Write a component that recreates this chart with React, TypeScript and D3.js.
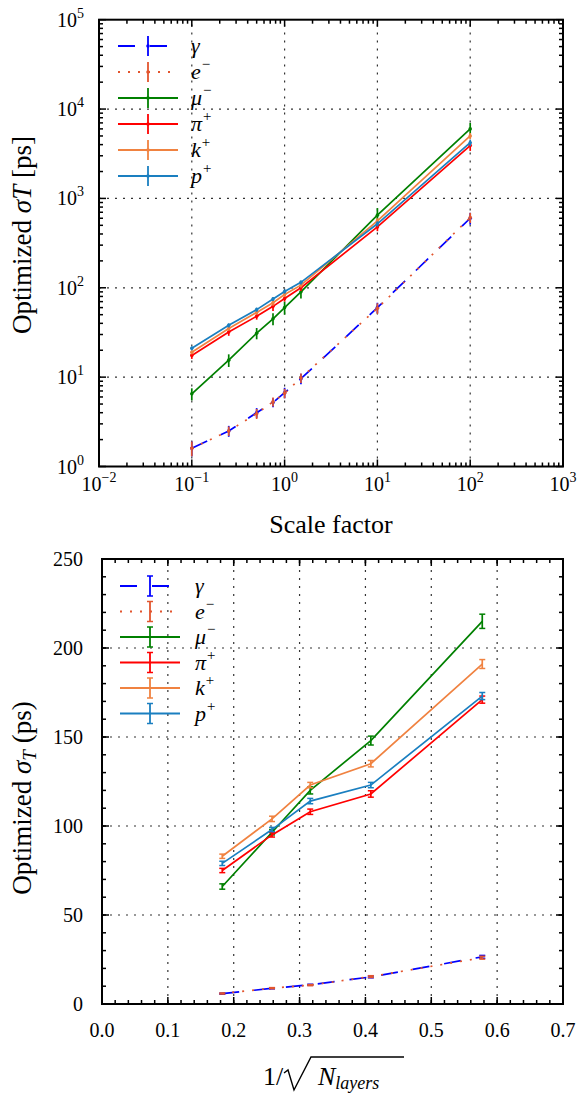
import React, { useEffect, useRef } from 'react'
import * as d3 from 'd3'

// ---- data ----
const scaleFactors = [0.1, 0.25, 0.5, 0.75, 1.0, 1.5, 10, 100]
const gammaTop = [1.6, 2.5, 4.0, 5.2, 6.7, 9.6, 60, 600]
const electronTop = [1.6, 2.5, 3.9, 5.3, 6.6, 9.8, 59, 610]
const muonTop = [6.5, 15.5, 31, 45, 60, 90, 650, 6000]
const pionTop = [17.5, 32, 48, 62, 76, 100, 480, 3900]
const kaonTop = [19, 35, 53, 68, 84, 107, 560, 5000]
const protonTop = [21, 38, 57, 75, 91, 115, 520, 4200]

const gammaTopErr = [0.3, 0.35, 0.5, 0.6, 0.9, 1.3, 8, 90]
const electronTopErr = [0.3, 0.3, 0.5, 0.6, 0.8, 1.2, 8, 80]
const muonTopErr = [1.0, 2.5, 4.5, 7, 10, 14, 130, 1000]
const pionTopErr = [1.5, 3, 4, 7, 6, 8, 50, 500]
const kaonTopErr = [1, 2, 3, 5, 5, 6, 40, 400]
const protonTopErr = [1, 2, 3, 4, 5, 6, 35, 350]

const invSqrtLayers = [0.1826, 0.2582, 0.3162, 0.4082, 0.5774]
const gammaBot = [5.8, 8.8, 10.8, 15.2, 26.5]
const electronBot = [5.9, 8.9, 10.6, 15.4, 26.0]
const muonBot = [66, 96.5, 120, 148, 215]
const pionBot = [75, 95, 108, 118, 171]
const kaonBot = [83, 104, 123, 135, 191]
const protonBot = [79, 98, 114, 123, 173]

const gammaBotErr = [0.3, 0.3, 0.3, 0.5, 0.8]
const electronBotErr = [0.3, 0.3, 0.3, 0.5, 0.8]
const muonBotErr = [1.5, 1.5, 2, 2.5, 4]
const pionBotErr = [1.2, 1.2, 1.5, 1.8, 2]
const kaonBotErr = [1.2, 1.5, 1.5, 1.8, 2.5]
const protonBotErr = [1.2, 1.2, 1.5, 1.5, 2]

const particles = [
  { sym: 'γ', sup: '', color: '#0000ff', dash: '17,15' },
  { sym: 'e', sup: '−', color: '#e2552e', dash: '2,8' },
  { sym: 'μ', sup: '−', color: '#008000', dash: null },
  { sym: 'π', sup: '+', color: '#ff0000', dash: null },
  { sym: 'k', sup: '+', color: '#f08240', dash: null },
  { sym: 'p', sup: '+', color: '#1a7fc0', dash: null },
]

const topSeries = [gammaTop, electronTop, muonTop, pionTop, kaonTop, protonTop]
const topErrs = [gammaTopErr, electronTopErr, muonTopErr, pionTopErr, kaonTopErr, protonTopErr]
const botSeries = [gammaBot, electronBot, muonBot, pionBot, kaonBot, protonBot]
const botErrs = [gammaBotErr, electronBotErr, muonBotErr, pionBotErr, kaonBotErr, protonBotErr]

const logXTicks = [-2, -1, 0, 1, 2, 3]
const logYTicks = [0, 1, 2, 3, 4, 5]
const linXTicks = [0, 0.1, 0.2, 0.3, 0.4, 0.5, 0.6, 0.7]
const linYTicks = [0, 50, 100, 150, 200, 250]

const W = 587
const H = 1093
const SERIF = "'Liberation Serif', 'Times New Roman', Times, serif"

export default function App() {
  const ref = useRef<SVGSVGElement>(null)

  useEffect(() => {
    const svg = d3.select(ref.current)
    svg.selectAll('*').remove()

    // ---------- top panel ----------
    const xt = d3.scaleLog().domain([1e-2, 1e3]).range([99, 563])
    const yt = d3.scaleLog().domain([1, 1e5]).range([466.5, 19.7])
    drawFrame(svg, xt, yt,
      logXTicks.slice(1, -1).map(e => Math.pow(10, e)),
      logYTicks.slice(1, -1).map(e => Math.pow(10, e)))
    // minor + major ticks
    let xMinor: number[] = [], yMinor: number[] = []
    for (let e = -2; e < 3; e++) for (let m = 2; m < 10; m++) xMinor.push(m * Math.pow(10, e))
    for (let e = 0; e < 5; e++) for (let m = 2; m < 10; m++) yMinor.push(m * Math.pow(10, e))
    drawTicks(svg, xt, yt, logXTicks.map(e => Math.pow(10, e)), xMinor,
      logYTicks.map(e => Math.pow(10, e)), yMinor)

    // data
    const topG = svg.append('g')
    topSeries.forEach((vals, si) => {
      const p = particles[si]
      const line = d3.line<number>().x((d, i) => xt(scaleFactors[i])).y(d => yt(d))
      topG.append('path').attr('d', line(vals)).attr('fill', 'none')
        .attr('stroke', p.color).attr('stroke-width', 1.7)
        .attr('stroke-dasharray', p.dash)
      vals.forEach((v, i) => {
        const e = topErrs[si][i]
        topG.append('line').attr('x1', xt(scaleFactors[i])).attr('x2', xt(scaleFactors[i]))
          .attr('y1', yt(v - e)).attr('y2', yt(v + e))
          .attr('stroke', p.color).attr('stroke-width', 1.7)
        topG.append('circle').attr('cx', xt(scaleFactors[i])).attr('cy', yt(v)).attr('r', 1.8)
          .attr('fill', p.color)
      })
    })

    // tick labels
    logXTicks.forEach(e => {
      const t = svg.append('text').attr('x', xt(Math.pow(10, e))).attr('y', 491)
        .attr('text-anchor', 'middle').attr('font-family', SERIF).attr('font-size', 20)
      t.append('tspan').text('10')
      t.append('tspan').attr('font-size', 14).attr('dy', -9).text(e < 0 ? '−' + (-e) : String(e))
    })
    logYTicks.forEach(e => {
      const t = svg.append('text').attr('x', 84).attr('y', yt(Math.pow(10, e)) + 7)
        .attr('text-anchor', 'end').attr('font-family', SERIF).attr('font-size', 20)
      t.append('tspan').text('10')
      t.append('tspan').attr('font-size', 14).attr('dy', -9).text(String(e))
    })

    svg.append('text').attr('x', 331).attr('y', 533).attr('text-anchor', 'middle')
      .attr('font-family', SERIF).attr('font-size', 26).text('Scale factor')

    const ylt = svg.append('text').attr('transform', 'translate(31,235) rotate(-90)')
      .attr('text-anchor', 'middle').attr('font-family', SERIF).attr('font-size', 27)
    ylt.append('tspan').text('Optimized ')
    ylt.append('tspan').attr('font-style', 'italic').text('σT')
    ylt.append('tspan').text(' [ps]')

    drawLegend(svg, 148, 191, 46, 26, false)

    // ---------- bottom panel ----------
    const xb = d3.scaleLinear().domain([0, 0.7]).range([102, 563])
    const yb = d3.scaleLinear().domain([0, 250]).range([1004, 559])
    drawFrame(svg, xb, yb, linXTicks.slice(1, -1), linYTicks.slice(1, -1))
    drawTicks(svg, xb, yb, linXTicks, d3.range(0, 0.7001, 0.02),
      linYTicks, d3.range(0, 250.001, 10))

    const botG = svg.append('g')
    botSeries.forEach((vals, si) => {
      const p = particles[si]
      const line = d3.line<number>().x((d, i) => xb(invSqrtLayers[i])).y(d => yb(d))
      botG.append('path').attr('d', line(vals)).attr('fill', 'none')
        .attr('stroke', p.color).attr('stroke-width', 1.7)
        .attr('stroke-dasharray', p.dash)
      vals.forEach((v, i) => {
        const e = botErrs[si][i]
        const x = xb(invSqrtLayers[i])
        botG.append('line').attr('x1', x).attr('x2', x)
          .attr('y1', yb(v - e)).attr('y2', yb(v + e))
          .attr('stroke', p.color).attr('stroke-width', 1.7)
        ;[v - e, v + e].forEach(c => {
          botG.append('line').attr('x1', x - 3).attr('x2', x + 3)
            .attr('y1', yb(c)).attr('y2', yb(c))
            .attr('stroke', p.color).attr('stroke-width', 1.5)
        })
      })
    })

    linXTicks.forEach(v => {
      svg.append('text').attr('x', xb(v)).attr('y', 1037).attr('text-anchor', 'middle')
        .attr('font-family', SERIF).attr('font-size', 20).text(v.toFixed(1))
    })
    linYTicks.forEach(v => {
      svg.append('text').attr('x', 83).attr('y', yb(v) + 7).attr('text-anchor', 'end')
        .attr('font-family', SERIF).attr('font-size', 20).text(String(v))
    })

    const ylb = svg.append('text').attr('transform', 'translate(31,798) rotate(-90)')
      .attr('text-anchor', 'middle').attr('font-family', SERIF).attr('font-size', 27)
    ylb.append('tspan').text('Optimized ')
    ylb.append('tspan').attr('font-style', 'italic').text('σ')
    ylb.append('tspan').attr('font-style', 'italic').attr('font-size', 19).attr('dy', 5).text('T')
    ylb.append('tspan').attr('dy', -5).text(' (ps)')

    // x label 1/sqrt(N_layers)
    svg.append('text').attr('x', 263).attr('y', 1085).attr('font-family', SERIF)
      .attr('font-size', 26).text('1/')
    svg.append('path').attr('d', 'M284,1073 L288,1070 L294,1090 L311,1057 L404,1057')
      .attr('fill', 'none').attr('stroke', 'black').attr('stroke-width', 1.4)
    const nl = svg.append('text').attr('x', 318).attr('y', 1085).attr('font-family', SERIF)
      .attr('font-style', 'italic').attr('font-size', 26)
    nl.append('tspan').text('N')
    nl.append('tspan').attr('font-size', 18).attr('dy', 4).text('layers')

    drawLegend(svg, 150, 195, 586, 25.5, true)
  }, [])

  return (
    <svg ref={ref} width={W} height={H}
      style={{ position: 'absolute', left: 0, top: 0, background: 'white' }} />
  )
}

function drawFrame(svg: any, x: any, y: any, xGrid: number[], yGrid: number[]) {
  const [x0, x1] = x.range()
  const [y0, y1] = y.range()
  const g = svg.append('g')
  xGrid.forEach(v => {
    g.append('line').attr('x1', x(v)).attr('x2', x(v)).attr('y1', y0).attr('y2', y1)
      .attr('stroke', '#333').attr('stroke-width', 1.2).attr('stroke-dasharray', '2,6')
  })
  yGrid.forEach(v => {
    g.append('line').attr('x1', x0).attr('x2', x1).attr('y1', y(v)).attr('y2', y(v))
      .attr('stroke', '#333').attr('stroke-width', 1.2).attr('stroke-dasharray', '2,6')
  })
  svg.append('rect').attr('x', x0).attr('y', y1).attr('width', x1 - x0).attr('height', y0 - y1)
    .attr('fill', 'none').attr('stroke', 'black').attr('stroke-width', 2)
}

function drawTicks(svg: any, x: any, y: any, xMaj: number[], xMin: number[], yMaj: number[], yMin: number[]) {
  const [x0, x1] = x.range()
  const [y0, y1] = y.range()
  const g = svg.append('g').attr('stroke', 'black').attr('stroke-width', 1.5)
  const vt = (v: number, len: number) => {
    g.append('line').attr('x1', x(v)).attr('x2', x(v)).attr('y1', y0).attr('y2', y0 - len)
    g.append('line').attr('x1', x(v)).attr('x2', x(v)).attr('y1', y1).attr('y2', y1 + len)
  }
  const ht = (v: number, len: number) => {
    g.append('line').attr('y1', y(v)).attr('y2', y(v)).attr('x1', x0).attr('x2', x0 + len)
    g.append('line').attr('y1', y(v)).attr('y2', y(v)).attr('x1', x1).attr('x2', x1 - len)
  }
  xMaj.forEach(v => vt(v, 7))
  xMin.forEach(v => vt(v, 4))
  yMaj.forEach(v => ht(v, 7))
  yMin.forEach(v => ht(v, 4))
}

function drawLegend(svg: any, cx: number, tx: number, y0: number, step: number, caps: boolean) {
  const g = svg.append('g')
  particles.forEach((p, i) => {
    const y = y0 + i * step
    g.append('line').attr('x1', cx - 30).attr('x2', cx + 30).attr('y1', y).attr('y2', y)
      .attr('stroke', p.color).attr('stroke-width', 1.8).attr('stroke-dasharray', p.dash)
    g.append('line').attr('x1', cx).attr('x2', cx).attr('y1', y - 10).attr('y2', y + 10)
      .attr('stroke', p.color).attr('stroke-width', 1.8)
    if (caps) {
      ;[y - 10, y + 10].forEach(c => g.append('line').attr('x1', cx - 3).attr('x2', cx + 3)
        .attr('y1', c).attr('y2', c).attr('stroke', p.color).attr('stroke-width', 1.5))
    } else {
      g.append('circle').attr('cx', cx).attr('cy', y).attr('r', 1.8).attr('fill', p.color)
    }
    const t = g.append('text').attr('x', tx).attr('y', y + 7).attr('font-family', SERIF)
      .attr('font-style', 'italic').attr('font-size', 22)
    t.append('tspan').text(p.sym)
    if (p.sup) t.append('tspan').attr('font-size', 15).attr('dy', -10).text(p.sup)
  })
}
